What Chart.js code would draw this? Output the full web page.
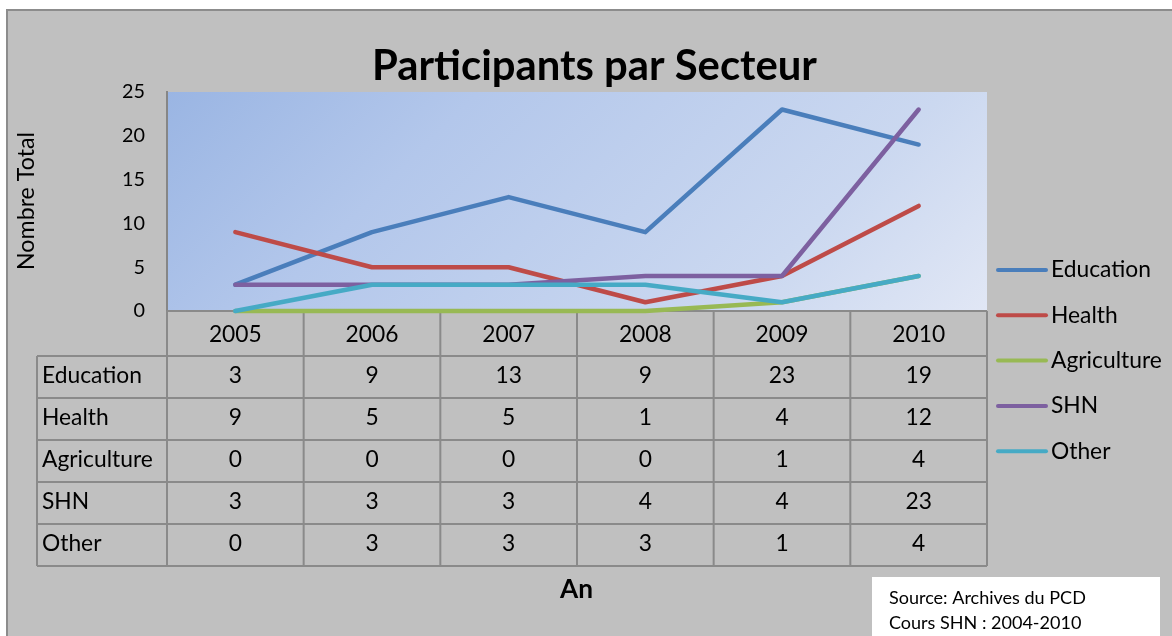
<!DOCTYPE html>
<html>
<head>
<meta charset="utf-8">
<script src="https://cdn.jsdelivr.net/npm/chart.js@4/dist/chart.umd.min.js"></script>
<style>
html,body{margin:0;padding:0;background:#fff;}
canvas{display:block;}
</style>
</head>
<body>
<canvas id="c" width="1172" height="636"></canvas>
<script>
// ---- Data ----
const years = ['2005', '2006', '2007', '2008', '2009', '2010'];
const education = [3, 9, 13, 9, 23, 19];
const health = [9, 5, 5, 1, 4, 12];
const agriculture = [0, 0, 0, 0, 1, 4];
const shn = [3, 3, 3, 4, 4, 23];
const other = [0, 3, 3, 3, 1, 4];
const seriesNames = ['Education', 'Health', 'Agriculture', 'SHN', 'Other'];
const seriesValues = [education, health, agriculture, shn, other];
const seriesColors = ['#4a7ebb', '#be4b48', '#98b954', '#7d60a0', '#46aac5'];
const yMin = 0, yMax = 25, yStep = 5;
const titleText = 'Participants par Secteur';
const yTitleText = 'Nombre Total';
const xTitleText = 'An';
const sourceLines = ['Source: Archives du PCD', 'Cours SHN : 2004-2010'];

// ---- Font fitting helpers ----
const FAM = 'Lato, "Open Sans", sans-serif';
const mctx = document.createElement('canvas').getContext('2d');
function fitSize(text, target, weight) {
  mctx.font = (weight || 'normal') + ' 100px ' + FAM;
  return 100 * target / mctx.measureText(text).width;
}
const tableSize = fitSize('Education', 100, 'normal');
const tickSize = fitSize('25', 23, 'normal');
const titleSize = fitSize(titleText, 445, 'bold');
const yTitleSize = fitSize(yTitleText, 138, 'normal');
const anSize = fitSize(xTitleText, 33, 'bold');
const srcSize = fitSize(sourceLines[0], 197, 'normal');

const W = 1172, H = 636;
const plotLeft = 167, plotTop = 92, plotRight = 987, plotBottom = 311;
const rowEdges = [311, 356, 398, 440, 482, 524, 566];
const tableLeft = 37;

const decor = {
  id: 'decor',
  beforeDraw(chart) {
    const ctx = chart.ctx;
    const a = chart.chartArea;
    ctx.save();
    ctx.fillStyle = '#ffffff';
    ctx.fillRect(0, 0, W, H);
    ctx.fillStyle = '#c0c0c0';
    ctx.fillRect(7, 10, W - 7, H - 10);
    ctx.strokeStyle = '#8c8c8c';
    ctx.lineWidth = 2;
    ctx.beginPath();
    ctx.moveTo(7, H); ctx.lineTo(7, 10); ctx.lineTo(W, 10);
    ctx.stroke();
    const d = (a.right - a.left) + (a.bottom - a.top);
    const g = ctx.createLinearGradient(a.left, a.top, a.left + d / 2, a.top + d / 2);
    g.addColorStop(0, '#9ab5e3');
    g.addColorStop(0.3, '#b3c7eb');
    g.addColorStop(0.75, '#cbd8f0');
    g.addColorStop(1, '#e1e7f5');
    ctx.fillStyle = g;
    ctx.fillRect(a.left, a.top, a.right - a.left, a.bottom - a.top);
    ctx.restore();
  },
  beforeDatasetsDraw(chart) {
    const ctx = chart.ctx;
    const a = chart.chartArea;
    const xs = chart.scales.x;
    const n = years.length;
    const colW = (a.right - a.left) / n;
    ctx.save();
    ctx.strokeStyle = '#8a8a8a';
    ctx.lineWidth = 2;
    ctx.beginPath();
    ctx.moveTo(a.left, rowEdges[0]); ctx.lineTo(a.right, rowEdges[0]);
    for (let r = 1; r < rowEdges.length; r++) {
      ctx.moveTo(tableLeft, rowEdges[r]); ctx.lineTo(a.right, rowEdges[r]);
    }
    ctx.moveTo(tableLeft, rowEdges[1]); ctx.lineTo(tableLeft, rowEdges[rowEdges.length - 1]);
    for (let i = 0; i <= n; i++) {
      const x = a.left + i * colW;
      ctx.moveTo(x, rowEdges[0]); ctx.lineTo(x, rowEdges[rowEdges.length - 1]);
    }
    ctx.stroke();
    ctx.fillStyle = '#000';
    ctx.font = 'normal ' + tableSize + 'px ' + FAM;
    ctx.textBaseline = 'middle';
    ctx.textAlign = 'center';
    for (let i = 0; i < n; i++) {
      const cx = xs.getPixelForValue(i);
      ctx.fillText(years[i], cx, (rowEdges[0] + rowEdges[1]) / 2 + 1);
    }
    for (let s = 0; s < seriesNames.length; s++) {
      const cy = (rowEdges[s + 1] + rowEdges[s + 2]) / 2 - 1;
      ctx.textAlign = 'left';
      ctx.fillText(seriesNames[s], 42, cy);
      ctx.textAlign = 'center';
      for (let i = 0; i < n; i++) {
        ctx.fillText(String(seriesValues[s][i]), xs.getPixelForValue(i), cy);
      }
    }
    ctx.restore();
  },
  afterDraw(chart) {
    const ctx = chart.ctx;
    ctx.save();
    ctx.fillStyle = '#000';
    ctx.textAlign = 'center';
    ctx.textBaseline = 'alphabetic';
    ctx.font = 'bold ' + titleSize + 'px ' + FAM;
    ctx.fillText(titleText, 594.5, 80);
    ctx.save();
    ctx.translate(27, 201);
    ctx.rotate(-Math.PI / 2);
    ctx.textBaseline = 'middle';
    ctx.font = 'normal ' + yTitleSize + 'px ' + FAM;
    ctx.fillText(yTitleText, 0, 0);
    ctx.restore();
    ctx.textBaseline = 'middle';
    ctx.font = 'bold ' + anSize + 'px ' + FAM;
    ctx.fillText(xTitleText, 576.5, 590);
    ctx.font = 'normal ' + tableSize + 'px ' + FAM;
    ctx.textAlign = 'left';
    ctx.lineCap = 'round';
    for (let s = 0; s < seriesNames.length; s++) {
      const y = 270 + s * 45.3;
      ctx.strokeStyle = seriesColors[s];
      ctx.lineWidth = 4;
      ctx.beginPath();
      ctx.moveTo(998, y); ctx.lineTo(1046, y);
      ctx.stroke();
      ctx.fillText(seriesNames[s], 1051, y);
    }
    ctx.fillStyle = '#ffffff';
    ctx.fillRect(872, 577, 288, 59);
    ctx.fillStyle = '#000';
    ctx.font = 'normal ' + srcSize + 'px ' + FAM;
    ctx.fillText(sourceLines[0], 889, 598);
    ctx.fillText(sourceLines[1], 889, 623);
    ctx.restore();
  }
};

const datasets = seriesNames.map((name, s) => ({
  label: name,
  data: seriesValues[s],
  borderColor: seriesColors[s],
  backgroundColor: seriesColors[s],
  borderWidth: 4.5,
  pointRadius: 0,
  pointHoverRadius: 0,
  tension: 0,
  fill: false,
  clip: false,
  borderCapStyle: 'round',
  borderJoinStyle: 'round',
  order: seriesNames.length - s
}));

new Chart(document.getElementById('c'), {
  type: 'line',
  data: { labels: years, datasets: datasets },
  options: {
    responsive: false,
    animation: false,
    events: [],
    layout: { padding: { left: 0, top: plotTop, right: W - plotRight, bottom: H - plotBottom } },
    plugins: { legend: { display: false }, title: { display: false }, tooltip: { enabled: false } },
    scales: {
      x: { display: false, offset: true },
      y: {
        min: yMin, max: yMax,
        ticks: { stepSize: yStep, color: '#000', padding: 22, font: { family: FAM, size: tickSize } },
        grid: { display: false, drawTicks: false },
        border: { display: true, color: '#868686', width: 2 },
        afterFit(scale) { scale.width = plotLeft; }
      }
    }
  },
  plugins: [decor]
});
</script>
</body>
</html>
